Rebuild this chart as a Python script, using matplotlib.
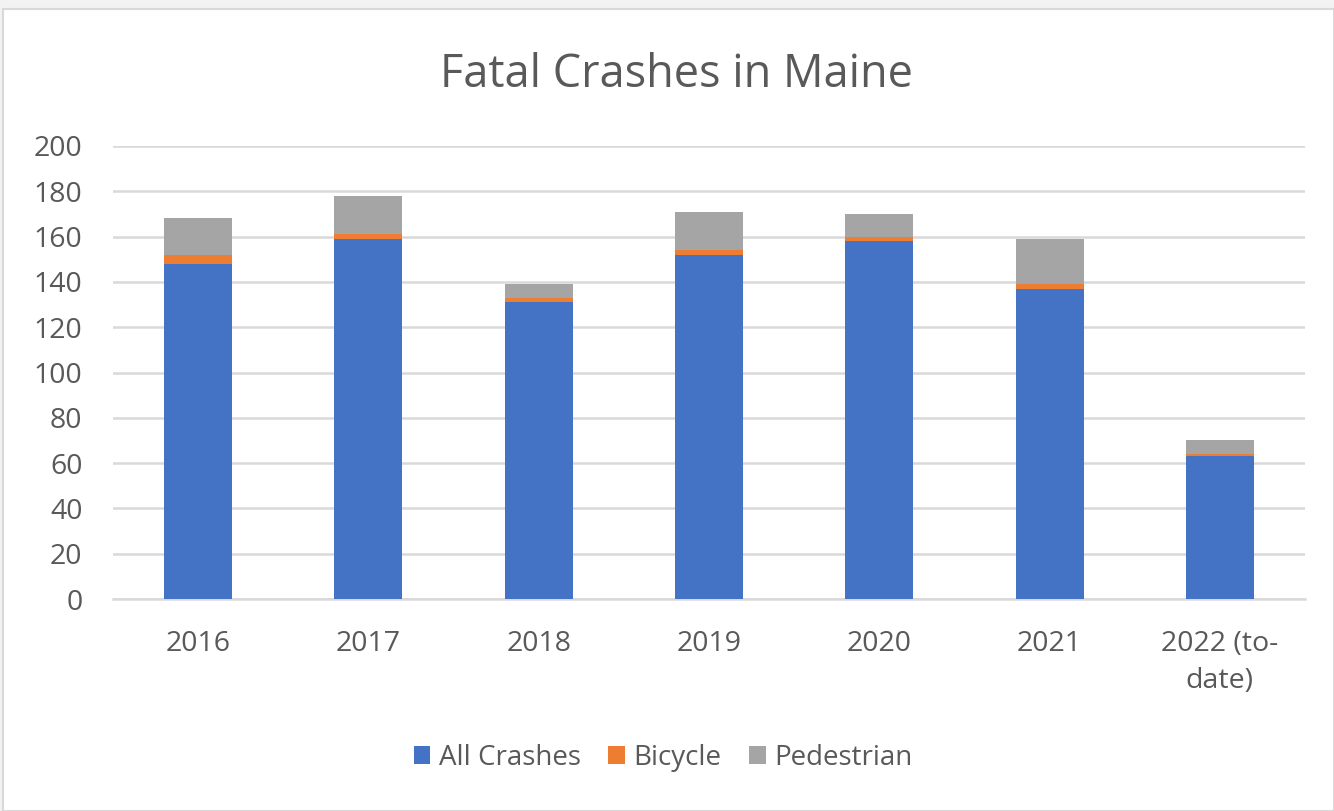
import matplotlib
matplotlib.use("Agg")
import matplotlib.pyplot as plt
from matplotlib.patches import Rectangle
import numpy as np

categories = ["2016", "2017", "2018", "2019", "2020", "2021", "2022 (to-\ndate)"]
all_crashes = [148, 159, 131, 152, 158, 137, 63]
bicycle = [4, 2, 2, 2, 2, 2, 1]
pedestrian = [16, 17, 6, 17, 10, 20, 6]

plt.rcParams['font.family'] = ['Open Sans', 'DejaVu Sans']
txt = '#595959'

fig = plt.figure(figsize=(13.34, 8.11), dpi=100)
fig.patch.set_facecolor('#f2f2f2')
bg = Rectangle((3/1334, 0), 1 - 3/1334, 1 - 9/811, transform=fig.transFigure,
               facecolor='white', edgecolor='#d9d9d9', linewidth=1.5, zorder=-10)
fig.patches.append(bg)

ax = fig.add_axes([113/1334, 1 - 599/811, (1305 - 113)/1334, (599 - 146)/811])
ax.set_zorder(5)
ax.set_facecolor('none')
x = np.arange(len(categories))
w = 0.4
b1 = ax.bar(x, all_crashes, w, color='#4472C4', label='All Crashes', zorder=3)
b2 = ax.bar(x, bicycle, w, bottom=all_crashes, color='#ED7D31', label='Bicycle', zorder=3)
bottom2 = [a + b for a, b in zip(all_crashes, bicycle)]
b3 = ax.bar(x, pedestrian, w, bottom=bottom2, color='#A5A5A5', label='Pedestrian', zorder=3)

ax.set_xlim(-0.5, len(categories) - 0.5)
ax.set_ylim(0, 200)
ax.set_yticks(range(0, 201, 20))
ax.grid(axis='y', color='#d9d9d9', linewidth=1.8, zorder=0)
for s in ['top', 'right', 'left']:
    ax.spines[s].set_visible(False)
ax.spines['bottom'].set_color('#d9d9d9')
ax.spines['bottom'].set_linewidth(1.8)
ax.spines['bottom'].set_zorder(1)
ax.tick_params(axis='both', length=0, labelsize=20.5, colors=txt)
ax.tick_params(axis='y', pad=22)
ax.tick_params(axis='x', pad=22)
ax.set_xticks(x)
ax.set_xticklabels(categories, multialignment='center', linespacing=1.45)

fig.text(676/1334, 1 - 87/811, 'Fatal Crashes in Maine', ha='center', va='baseline',
         fontsize=32.5, color=txt)

leg = fig.legend(handles=[b1, b2, b3], loc='center', bbox_to_anchor=(663/1334, 1 - 758/811),
                 ncol=3, frameon=False, fontsize=20, handlelength=0.6, handleheight=0.6,
                 handletextpad=0.3, columnspacing=1.0)
for t in leg.get_texts():
    t.set_color(txt)

fig.savefig('out.png', dpi=100, facecolor=fig.get_facecolor())
